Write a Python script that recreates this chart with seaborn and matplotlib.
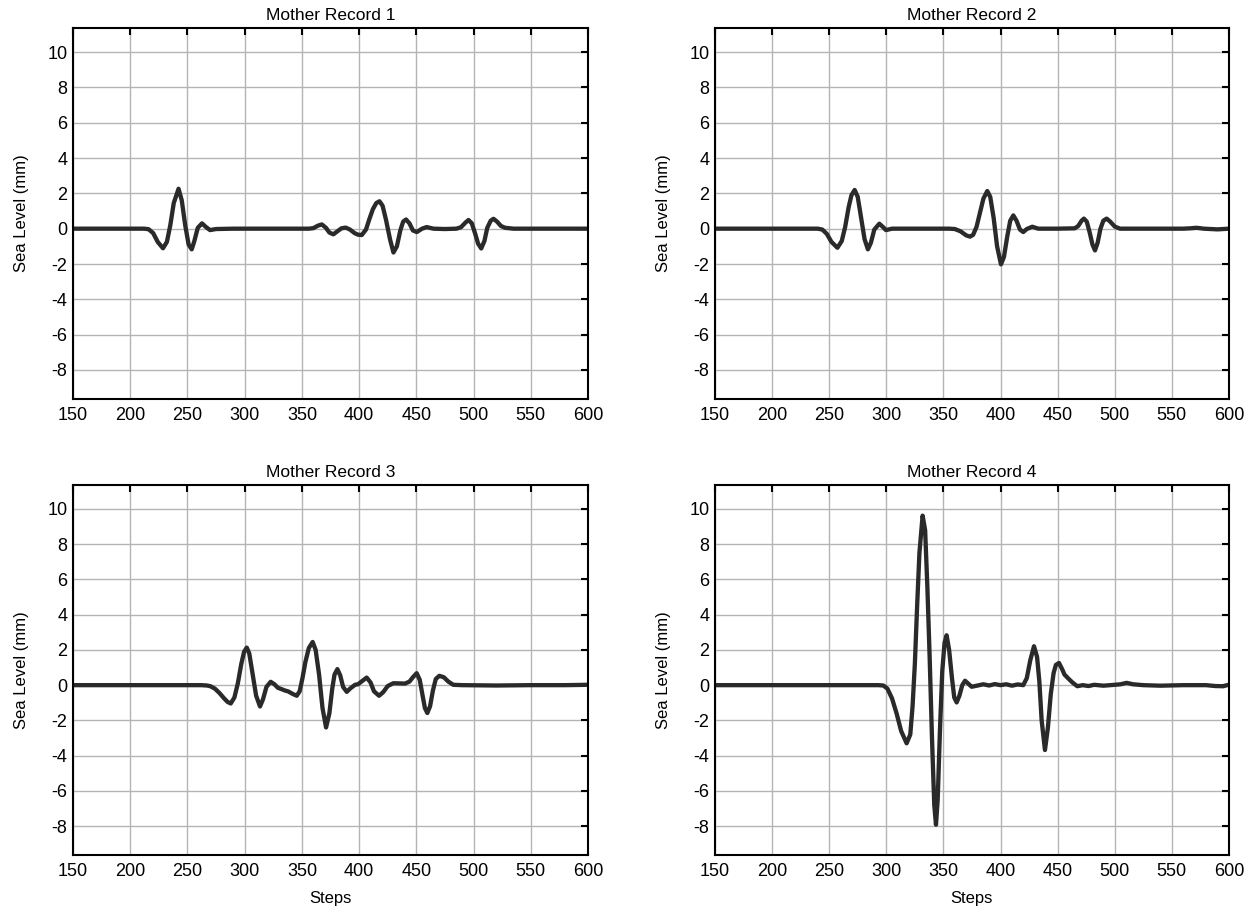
import numpy as np
import pandas as pd
import seaborn as sns
import matplotlib
matplotlib.use('Agg')
import matplotlib.pyplot as plt

# sea level traces (steps, mm)
steps1 = [150, 200, 212, 216, 220, 224, 228.6, 232, 235, 238, 242.2, 245, 248, 251, 253.7, 256, 259, 262.7,
          266, 269.7, 275, 290, 320, 350, 356, 360, 364, 367.4, 371, 374, 377.5, 381, 384.5, 388.3, 392, 396,
          399, 402.3, 406, 409, 412, 415, 417.8, 420.5, 423.5, 427, 430, 433, 436, 438.5, 441, 444, 447, 450.4,
          455, 459, 465, 475, 485, 489, 493, 495.6, 498.5, 501.5, 504, 506.7, 509.5, 512, 515, 517.4, 520.5,
          524, 527.6, 535, 560, 600]
level1 = [0, 0, 0, -0.03, -0.25, -0.75, -1.11, -0.75, 0.2, 1.45, 2.26, 1.6, 0.2, -0.9, -1.17, -0.7, 0.05, 0.30,
          0.1, -0.08, -0.02, 0, 0, 0, 0, 0.03, 0.17, 0.24, 0.05, -0.22, -0.32, -0.15, 0.02, 0.06, -0.05, -0.25,
          -0.34, -0.36, -0.05, 0.55, 1.1, 1.45, 1.55, 1.3, 0.5, -0.6, -1.35, -1.0, -0.1, 0.4, 0.52, 0.3, -0.1, -0.19,
          0.0, 0.09, 0.0, -0.02, 0.0, 0.08, 0.35, 0.49, 0.3, -0.3, -0.85, -1.12, -0.7, 0.05, 0.45, 0.56, 0.4,
          0.15, 0.05, 0.0, 0.0, 0]

steps2 = [150, 200, 240, 244, 248, 252, 257.2, 261, 264, 267, 269.5, 272.3, 275, 278, 281, 283.9, 286.5, 289.5,
          293.9, 297, 299.7, 305, 330, 355, 360, 365, 370, 373.3, 376, 379, 382, 385, 388.4, 391, 394, 397, 400.4,
          403, 406, 408.5, 411.2, 414, 417, 419.9, 423, 427.8, 433, 450, 465, 468, 471, 473, 475.5, 478, 480.5,
          482.7, 485, 487.5, 490, 492.9, 496, 500, 504.6, 530, 560, 566, 571.7, 578, 590, 600]
level2 = [0, 0, 0, -0.05, -0.3, -0.75, -1.08, -0.7, 0.1, 1.2, 1.9, 2.19, 1.8, 0.6, -0.6, -1.17, -0.8, -0.05,
          0.28, 0.1, -0.08, 0, 0, 0, -0.02, -0.15, -0.38, -0.45, -0.35, 0.1, 0.9, 1.7, 2.13, 1.8, 0.6, -1.0, -2.02,
          -1.6, -0.4, 0.45, 0.75, 0.45, -0.05, -0.19, -0.02, 0.11, 0.0, 0.0, 0.02, 0.15, 0.45, 0.57, 0.4, -0.2, -0.9,
          -1.23, -0.8, 0.0, 0.45, 0.57, 0.4, 0.12, 0.0, 0, 0, 0.02, 0.05, 0.0, -0.04, 0]

steps3 = [150, 200, 262, 267, 270, 274, 278, 282, 285, 287.8, 291, 294, 297, 299.5, 301.8, 304, 307, 310, 313.4,
          316, 319, 322.7, 326, 329, 332.4, 335, 338.2, 342, 345.5, 348, 350.5, 353, 356, 359.4, 362, 365, 368,
          371.1, 374, 376.5, 378.5, 381, 383.5, 386, 389.2, 392, 396.4, 399, 402, 406.6, 410, 413, 417.4, 421, 425,
          429.9, 435, 440.1, 444, 447, 450.3, 453, 455.5, 457.5, 459.6, 462, 464.5, 467, 470.1, 474, 478, 482.3,
          490, 520, 550, 580, 600]
level3 = [0, 0, 0, -0.02, -0.06, -0.2, -0.45, -0.75, -0.95, -1.04, -0.7, 0.1, 1.2, 1.9, 2.13, 1.8, 0.6, -0.6,
          -1.21, -0.8, -0.1, 0.19, 0.05, -0.15, -0.23, -0.3, -0.36, -0.5, -0.6, -0.35, 0.4, 1.3, 2.1, 2.45, 2.0, 0.6,
          -1.3, -2.4, -1.6, -0.2, 0.6, 0.91, 0.55, -0.1, -0.38, -0.2, 0.02, 0.05, 0.2, 0.43, 0.15, -0.35, -0.6, -0.4,
          -0.05, 0.11, 0.1, 0.09, 0.2, 0.45, 0.68, 0.3, -0.6, -1.3, -1.58, -1.2, -0.3, 0.35, 0.53, 0.45, 0.2, 0.02,
          0.0, -0.02, 0.0, 0.0, 0.02]

steps4 = [150, 200, 250, 293, 297.4, 301, 305, 309, 313, 317.8, 321, 323, 325, 327, 329, 331.8, 334, 336, 338,
          340, 342, 343.5, 345, 347, 349, 351, 352.8, 355, 357.5, 359.5, 361.6, 364, 366.5, 368.9, 371.5, 374.7,
          380, 385, 390, 395, 400, 405, 410, 415, 419.9, 423, 426, 429.3, 432, 434, 436, 438.9, 441.5, 444, 446.5,
          448.5, 451.2, 454, 456, 459.3, 463, 467.2, 472, 477, 482, 490, 500, 505, 510.4, 516, 525, 540, 560, 580,
          588, 595, 600]
level4 = [0, 0, 0, 0, -0.02, -0.2, -0.75, -1.6, -2.6, -3.3, -2.8, -1.2, 1.2, 4.5, 7.5, 9.62, 8.8, 5.5, 1.5,
          -3.0, -6.8, -7.92, -6.5, -2.5, 0.8, 2.4, 2.83, 2.0, 0.4, -0.7, -0.98, -0.6, 0.0, 0.25, 0.1, -0.09,
          -0.02, 0.05, -0.02, 0.06, 0.0, 0.05, -0.03, 0.04, 0.0, 0.4, 1.4, 2.21, 1.6, 0.2, -2.0, -3.68, -2.4, -0.5, 0.7,
          1.15, 1.26, 0.9, 0.6, 0.38, 0.15, -0.06, 0.0, -0.05, 0.02, -0.03, 0.02, 0.05, 0.13, 0.05, 0.0, -0.03, 0.0, 0.0,
          -0.05, -0.06, 0.03]

titles = ['Mother Record 1', 'Mother Record 2', 'Mother Record 3', 'Mother Record 4']
xticks = [150, 200, 250, 300, 350, 400, 450, 500, 550, 600]
yticks = [-8, -6, -4, -2, 0, 2, 4, 6, 8, 10]

sns.set_style('white')
plt.rcParams['font.family'] = ['Liberation Sans', 'DejaVu Sans']
plt.rcParams['axes.unicode_minus'] = False

records = [(steps1, level1), (steps2, level2), (steps3, level3), (steps4, level4)]
# axes boxes in figure fractions: left, bottom, width, height
boxes = [[0.0584, 0.5654, 0.4116, 0.4041],
         [0.5715, 0.5654, 0.4109, 0.4041],
         [0.0584, 0.0686, 0.4116, 0.4031],
         [0.5715, 0.0686, 0.4109, 0.4031]]

fig = plt.figure(figsize=(12.51, 9.18), dpi=100)
for i, ((xs, ys), box) in enumerate(zip(records, boxes)):
    ax = fig.add_axes(box)
    df = pd.DataFrame({'Steps': xs, 'Sea Level (mm)': ys})
    sns.lineplot(data=df, x='Steps', y='Sea Level (mm)', ax=ax, color='#2a2a2a', linewidth=3.1,
                 solid_joinstyle='round', solid_capstyle='round')
    ax.set_xlim(150, 600)
    ax.set_ylim(-9.64, 11.36)
    ax.set_xticks(xticks)
    ax.set_yticks(yticks)
    ax.grid(True, color='#b4b4b4', linewidth=1.0)
    ax.set_axisbelow(True)
    ax.tick_params(direction='in', length=5, width=1.5, top=True, right=True, labelsize=13, colors='black')
    ax.tick_params(axis='x', pad=6)
    ax.tick_params(axis='y', pad=4)
    for sp in ax.spines.values():
        sp.set_color('black')
        sp.set_linewidth(1.5)
    ax.set_title(titles[i], fontsize=12.5, pad=6, color='black')
    ax.set_ylabel('Sea Level (mm)', fontsize=12, labelpad=13, color='black')
    if i >= 2:
        ax.set_xlabel('Steps', fontsize=12, labelpad=8, color='black')
    else:
        ax.set_xlabel('')

fig.savefig('out.png', dpi=100)
